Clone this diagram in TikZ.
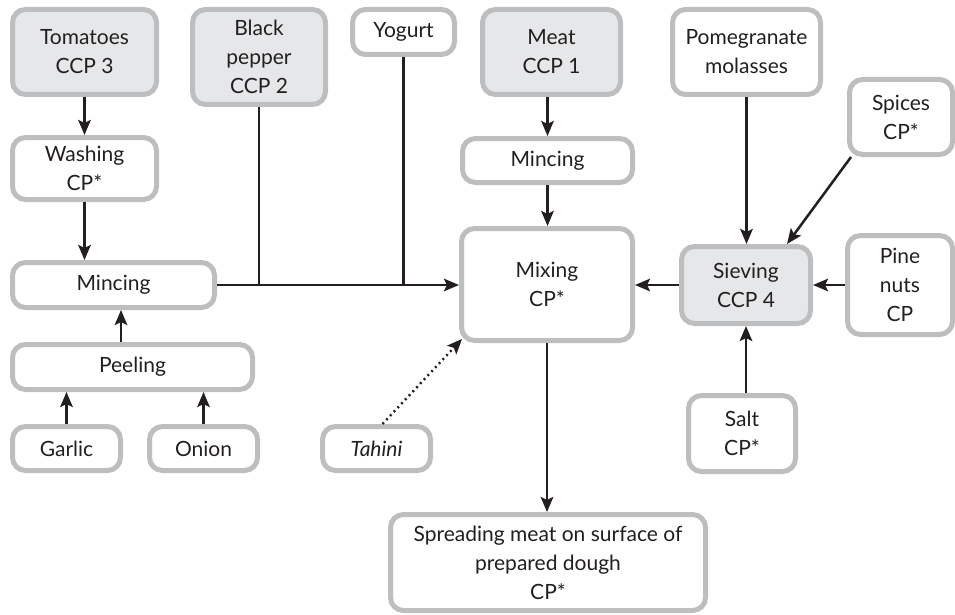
\documentclass[tikz,border=0pt]{standalone}
\usepackage{fontspec}
\setmainfont{Lato}
\usetikzlibrary{arrows.meta}

\definecolor{edgegray}{HTML}{BCBEC0}
\definecolor{fillgray}{HTML}{E6E7E8}
\definecolor{ink}{HTML}{231F20}

\tikzset{
  box/.style={draw=edgegray, line width=5pt, rounded corners=13pt, fill=white,
    align=center, text=ink, inner sep=0pt, font=\fontsize{21}{29}\selectfont},
  ccp/.style={box, fill=fillgray},
  flow/.style={draw=ink, line width=2.5pt,
    -{Stealth[length=15pt,width=12.5pt,inset=3pt]}},
  link/.style={draw=ink, line width=2.5pt},
  optional/.style={draw=ink, line width=2.4pt, dash pattern=on 2pt off 3.5pt,
    -{Stealth[length=15pt,width=12.5pt,inset=3pt]}}
}

\begin{document}
\begin{tikzpicture}[x=1pt, y=-1pt]
  \useasboundingbox (0,0) rectangle (955,615);

  % raw materials (top row)
  \node[ccp, minimum width=144pt, minimum height=85pt] (tom) at (84.5,52) {Tomatoes\\CCP 3};
  \node[ccp, minimum width=133pt, minimum height=95pt] (pep) at (259,57) {Black\\pepper\\CCP 2};
  \node[box, minimum width=102pt, minimum height=45pt] (yog) at (403.5,32) {Yogurt};
  \node[ccp, minimum width=138pt, minimum height=85pt] (meat) at (551.5,52) {Meat\\CCP 1};
  \node[box, minimum width=148pt, minimum height=85pt] (pom) at (746.5,52) {Pomegranate\\molasses};
  \node[box, minimum width=103pt, minimum height=75pt] (spi) at (901,117) {Spices\\CP*};

  % vegetable line
  \node[box, minimum width=144pt, minimum height=62pt] (wash) at (84.5,168.5) {Washing\\CP*};
  \node[box, minimum width=202pt, minimum height=45pt] (minL) at (113.5,285) {Mincing};
  \node[box, minimum width=240pt, minimum height=45pt] (peel) at (132.5,367) {Peeling};
  \node[box, minimum width=108pt, minimum height=44pt] (gar) at (66.5,448.5) {Garlic};
  \node[box, minimum width=108pt, minimum height=44pt] (oni) at (203.5,448.5) {Onion};
  \node[box, minimum width=108pt, minimum height=44pt] (tah) at (376.5,448.5) {\itshape Tahini};

  % meat line and mixing
  \node[box, minimum width=170pt, minimum height=44pt] (minM) at (547.5,160.5) {Mincing};
  \node[box, minimum width=171pt, minimum height=112pt] (mix) at (547,284.5) {Mixing\\CP*};
  \node[ccp, minimum width=129pt, minimum height=77pt] (sie) at (746,285) {Sieving\\CCP 4};
  \node[box, minimum width=105pt, minimum height=99pt] (pine) at (900,285) {Pine\\nuts\\CP};
  \node[box, minimum width=107pt, minimum height=76pt] (salt) at (742,433.5) {Salt\\CP*};
  \node[box, minimum width=315pt, minimum height=96pt] (spr) at (548,562.5)
    {Spreading meat on surface of\\prepared dough\\CP*};

  % vegetable connectors
  \draw[flow] (tom.south) -- (wash.north);
  \draw[flow] (wash.south) -- (wash.south |- minL.north);
  \draw[flow] (peel.north -| 121,0) -- (minL.south -| 121,0);
  \draw[flow] (gar.north) -- (gar.north |- peel.south);
  \draw[flow] (oni.north) -- (oni.north |- peel.south);

  % feed into mixing
  \draw[flow] (minL.east) -- (minL.east -| mix.west);
  \draw[link] (pep.south) -- (pep.south |- minL.east);
  \draw[link] (yog.south) -- (yog.south |- minL.east);
  \draw[flow] (minM.north |- meat.south) -- (minM.north);
  \draw[flow] (minM.south) -- (minM.south |- mix.north);
  \draw[optional] ([xshift=6pt]tah.north) -- ([xshift=3pt,yshift=4pt]mix.south west);
  \draw[flow] (mix.south) -- (mix.south |- spr.north);

  % sieving of dry ingredients
  \draw[flow] (sie.west) -- (sie.west -| mix.east);
  \draw[flow] (pom.south) -- (pom.south |- sie.north);
  \draw[flow] ([xshift=4pt]spi.south west) -- ([xshift=-26pt]sie.north east);
  \draw[flow] (pine.west) -- (pine.west -| sie.east);
  \draw[flow] (sie.south |- salt.north) -- (sie.south);
\end{tikzpicture}
\end{document}
